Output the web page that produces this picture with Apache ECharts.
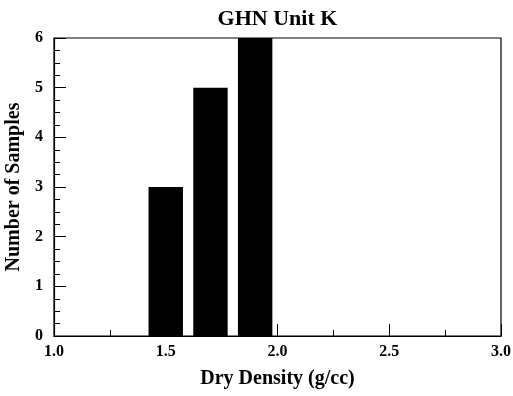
<!DOCTYPE html>
<html>
<head>
<meta charset="utf-8">
<script src="https://cdn.jsdelivr.net/npm/echarts@6/dist/echarts.min.js"></script>
<style>
  html, body { margin: 0; padding: 0; background: #fff; }
  #chart { width: 513px; height: 396px; }
</style>
</head>
<body>
<div id="chart"></div>
<script>
// Histogram of dry density for GHN Unit K
const binCenters = [1.5, 1.7, 1.9];
const sampleCounts = [3, 5, 6];
const binWidth = 0.2;
const xTickValues = [1.0, 1.5, 2.0, 2.5, 3.0];
const yTickValues = [0, 1, 2, 3, 4, 5, 6];

const FONT = '"Liberation Serif", "Times New Roman", serif';
const barFill = 0.77;

const chart = echarts.init(document.getElementById('chart'), null, { renderer: 'canvas' });

const axisText = { color: '#000', fontFamily: FONT, fontWeight: 'bold', fontSize: 16 };

chart.setOption({
  animation: false,
  backgroundColor: '#fff',
  grid: {
    left: 54, right: 12, top: 38, bottom: 60,
    containLabel: false, outerBoundsMode: 'none',
    show: true, borderColor: '#000', borderWidth: 1.2, backgroundColor: 'transparent'
  },
  xAxis: [{
    type: 'value',
    min: xTickValues[0], max: xTickValues[xTickValues.length - 1], interval: 0.5,
    name: 'Dry Density (g/cc)', nameLocation: 'middle', nameGap: 33,
    nameTextStyle: { color: '#000', fontFamily: FONT, fontWeight: 'bold', fontSize: 20 },
    axisLine: { show: true, lineStyle: { color: '#000', width: 1.2 } },
    axisTick: { show: true, inside: true, length: 12, lineStyle: { color: '#000' } },
    minorTick: { show: true, splitNumber: 2, length: 6, lineStyle: { color: '#000' } },
    axisLabel: Object.assign({ margin: 8, formatter: v => v.toFixed(1) }, axisText),
    splitLine: { show: false }
  }, {
    type: 'value', position: 'top',
    min: xTickValues[0], max: xTickValues[xTickValues.length - 1],
    name: 'GHN Unit K', nameLocation: 'middle', nameGap: 8,
    nameTextStyle: { color: '#000', fontFamily: FONT, fontWeight: 'bold', fontSize: 22 },
    axisLine: { show: false }, axisTick: { show: false }, axisLabel: { show: false },
    splitLine: { show: false }
  }],
  yAxis: {
    type: 'value',
    min: yTickValues[0], max: yTickValues[yTickValues.length - 1], interval: 1,
    name: 'Number of Samples', nameLocation: 'middle', nameGap: 25,
    nameTextStyle: { color: '#000', fontFamily: FONT, fontWeight: 'bold', fontSize: 20 },
    axisLine: { show: true, lineStyle: { color: '#000', width: 1.2 } },
    axisTick: { show: true, inside: true, length: 12, lineStyle: { color: '#000' } },
    minorTick: { show: true, splitNumber: 4, length: 6, lineStyle: { color: '#000' } },
    axisLabel: Object.assign({ margin: 11 }, axisText),
    splitLine: { show: false }
  },
  series: [{
    type: 'custom',
    xAxisIndex: 0,
    data: binCenters.map((c, i) => [c, sampleCounts[i]]),
    renderItem: function (params, api) {
      const c = api.value(0), n = api.value(1);
      const half = binWidth * barFill / 2;
      const p0 = api.coord([c - half, n]);
      const p1 = api.coord([c + half, 0]);
      return {
        type: 'rect',
        shape: { x: p0[0], y: p0[1], width: p1[0] - p0[0], height: p1[1] - p0[1] },
        style: { fill: '#000' }
      };
    },
    z: 1
  }]
});
</script>
</body>
</html>
